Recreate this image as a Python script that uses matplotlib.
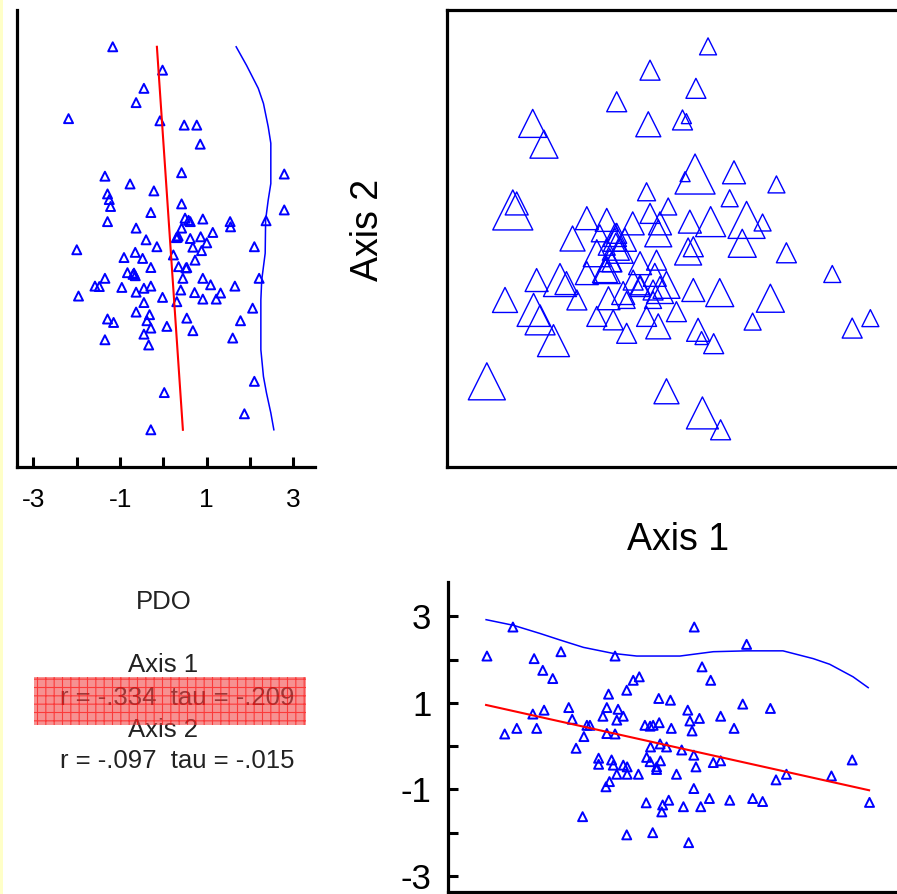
import numpy as np
import matplotlib
matplotlib.use("Agg")
import matplotlib.pyplot as plt
from matplotlib.patches import Rectangle

plt.rcParams['font.family'] = ['Liberation Sans', 'DejaVu Sans']
plt.rcParams['hatch.linewidth'] = 0.8

# ---- data ----
# top-left: PDO (x) against Axis 2 (y)
tl_pdo = [-1.17, -0.02, -0.45, -0.63, -2.19, -0.08, 0.48, 0.77, 0.85, 0.42,
          2.79, -1.35, -0.77, -0.22, -1.29, -1.25, -1.22, 0.42, -0.29, 2.79,
          -1.29, 0.50, 0.62, 0.91, 1.54, 1.55, 2.37, -0.63, 0.42, 1.14,
          0.32, -0.40, 0.62, 0.86, 1.00, -0.15, 0.68, -2.00, 2.10, -0.65,
          -0.91, -0.48, 0.23, 0.88, 0.73, -0.29, -0.83, -0.65, 0.35, 0.54,
          0.45, -1.35, 0.91, -1.58, -1.48, -0.96, -0.63, -0.45, -0.29, 1.09,
          1.65, 2.21, -1.96, -0.02, 0.31, 0.40, 0.72, 0.91, 1.22, 1.32,
          -0.45, 2.06, -0.63, -0.32, -0.38, -1.29, -1.15, 0.54, 1.78, 0.08,
          -0.29, 0.68, -0.45, -1.35, 1.60, -0.34, 2.10, 0.02, 1.87, -0.29,
          -0.70, -0.68, 0.30, 0.34, 0.58, 0.52]
tl_ax2 = [4.31, 3.77, 3.35, 3.02, 2.65, 2.60, 2.50, 2.50, 2.06, 1.40,
          1.37, 1.32, 1.14, 0.98, 0.91, 0.78, 0.62, 0.68, 0.48, 0.54,
          0.27, 0.35, 0.27, 0.33, 0.27, 0.15, 0.29, 0.12, 0.12, 0.02,
          -0.09, -0.15, -0.12, -0.08, -0.22, -0.31, -0.32, -0.38, -0.31, -0.44,
          -0.56, -0.58, -0.50, -0.40, -0.62, -0.79, -0.91, -0.98, -0.77, -0.79,
          -1.04, -1.04, -1.04, -1.22, -1.23, -1.25, -1.36, -1.27, -1.22, -1.19,
          -1.22, -1.04, -1.45, -1.48, -1.58, -1.31, -1.37, -1.52, -1.52, -1.38,
          -1.60, -1.73, -1.82, -1.88, -2.02, -1.98, -2.06, -1.96, -2.02, -2.15,
          -2.19, -2.25, -2.33, -2.46, -2.42, -2.58, -3.42, -3.68, -4.17, -4.54,
          -0.95, -0.92, -0.10, -0.06, 0.30, -0.80]
tl_fit_pdo = [-0.15, 0.45]
tl_fit_ax2 = [4.31, -4.54]
tl_env_pdo = [1.68, 1.92, 2.19, 2.31, 2.42, 2.48, 2.48, 2.42, 2.36, 2.35,
              2.27, 2.25, 2.25, 2.31, 2.38, 2.48, 2.55]
tl_env_ax2 = [4.31, 3.88, 3.35, 3.00, 2.46, 2.08, 1.15, 0.77, 0.31, -0.46,
              -1.08, -1.54, -2.69, -3.31, -3.69, -4.15, -4.54]

# top-right: Axis 1 vs Axis 2, triangle size follows PDO
tr_ax1 = [0.65, -0.69, 0.37, -1.46, -0.73, 0.06, 0.15, -3.40, -3.14, 0.35,
          0.12, 1.25, 2.23, -0.77, 1.15, -3.86, -3.77, -0.27, -2.15, -1.69,
          -1.09, -0.69, -0.46, 0.23, 0.71, 1.54, 1.91, -2.48, -1.50, -1.48,
          -0.50, 0.19, 0.31, 1.44, 2.46, -1.92, -1.62, -0.92, -0.54, -3.31,
          -2.77, -2.62, -2.15, -1.69, 3.52, -2.38, -4.04, -3.38, -3.23, -2.92,
          -1.92, -1.65, -1.54, -1.23, -1.31, -0.92, -0.77, -0.50, -0.31, -0.08,
          0.31, 0.92, 2.09, 1.68, 0.42, 0.50, 0.78, 3.98, 4.40, -4.46,
          -0.31, 0.52, 0.94, -1.08, -0.62, -1.46, -1.85, -1.23, -0.62, -1.69,
          -1.50, -1.39, -1.57, -1.27, -1.73, -0.92, -0.46, -0.58]
tr_ax2 = [4.32, 3.77, 3.35, 3.04, 2.52, 2.62, 2.65, 2.54, 2.06, 1.37,
          1.31, 1.41, 1.13, 0.96, 0.81, 0.54, 0.69, 0.62, 0.35, 0.31,
          0.23, 0.46, 0.23, 0.27, 0.27, 0.31, 0.25, -0.12, -0.15, -0.31,
          0.00, -0.42, -0.31, -0.23, -0.45, -0.46, -0.62, -0.69, -0.62, -1.08,
          -1.08, -1.15, -0.92, -0.85, -0.94, -1.54, -1.54, -1.77, -2.00, -2.48,
          -1.92, -1.50, -2.00, -2.31, -1.38, -1.23, -1.92, -2.15, -1.19, -1.81,
          -1.31, -1.37, -1.50, -2.04, -2.23, -2.42, -2.55, -2.19, -1.96, -3.42,
          -3.65, -4.15, -4.54, -1.08, -1.31, 0.00, 0.00, -1.54, -1.54, -0.31,
          -0.04, -0.38, -0.66, -0.15, -0.85, -1.19, -1.31, -0.96]
tr_pdo = [-1.17, -0.67, -0.67, -0.67, 0.17, -0.67, -2.33, 0.67, 0.67, 2.67,
          -2.33, -0.17, -1.17, -1.00, -1.17, 2.67, -0.17, -1.17, -0.17, -0.17,
          -0.17, -0.67, -0.17, -0.17, 1.00, 2.17, -1.17, 0.17, -0.17, 0.50,
          0.50, 0.50, -0.67, 0.67, -0.67, 0.50, -0.17, -0.17, -0.67, -0.17,
          1.50, -0.17, -0.17, 0.50, -1.17, -0.67, 0.17, 1.50, 1.00, 1.33,
          -0.67, -0.17, -0.67, -0.67, -0.17, -0.67, -0.67, 0.17, 0.50, -0.67,
          -0.17, 0.67, 0.67, -1.17, -0.17, -1.83, -0.67, -0.67, -1.17, 2.17,
          0.17, 1.33, -0.67, -0.67, -0.67, -0.67, -1.17, -1.17, -1.17, -1.17,
          -0.17, 0.50, -0.67, -0.17, 0.17, -0.67, 0.50, -0.17]

# bottom-right: Axis 1 (x) against PDO (y)
br_ax1 = [-4.46, -3.86, -3.37, -2.75, -3.17, -2.94, -1.50, 0.33, 1.54, 0.51,
          0.71, -0.94, -1.08, -1.23, -1.65, -0.49, -0.22, 1.45, 2.09, -2.57,
          -3.40, -3.14, -1.69, -1.43, 0.18, -2.49, -1.78, -1.46, -1.31, 0.23,
          0.45, 0.94, -4.05, -3.77, -3.31, -2.15, -2.08, -2.22, -1.69, -1.50,
          -0.81, -0.69, -0.62, -0.48, -0.20, 0.28, 1.25, -2.40, -0.68, -0.46,
          -0.31, 0.04, 0.32, -0.77, -0.69, -0.45, -0.54, -0.54, -1.88, -1.88,
          -1.58, -1.54, -1.31, -1.22, -1.46, -1.22, -0.96, -0.08, 0.37, 0.77,
          0.94, 2.22, 2.46, 3.50, 3.98, -1.63, -1.71, 0.32, -0.78, -0.40,
          -0.26, -0.42, 0.08, 0.48, 0.68, 1.15, 1.68, 1.91, 4.38, -2.25,
          -1.23, -0.63, 0.20]
br_pdo = [2.08, 2.75, 2.02, 2.18, 1.75, 1.56, 2.08, 2.75, 2.35, 1.83,
          1.52, 1.60, 1.52, 1.29, 1.20, 1.10, 1.06, 0.97, 0.87, 0.89,
          0.74, 0.83, 0.89, 0.85, 0.83, 0.62, 0.69, 0.60, 0.69, 0.58,
          0.64, 0.69, 0.28, 0.41, 0.41, 0.48, 0.48, 0.22, 0.29, 0.28,
          0.48, 0.46, 0.48, 0.54, 0.41, 0.35, 0.41, -0.05, -0.02, 0.05,
          -0.02, -0.09, -0.21, -0.26, -0.36, -0.34, -0.48, -0.54, -0.28, -0.42,
          -0.32, -0.44, -0.44, -0.48, -0.65, -0.65, -0.65, -0.65, -0.48, -0.38,
          -0.34, -0.78, -0.65, -0.69, -0.32, -0.82, -0.94, -0.98, -1.31, -1.36,
          -1.25, -1.52, -1.40, -1.40, -1.21, -1.25, -1.21, -1.28, -1.30, -1.63,
          -2.05, -2.00, -2.23]
br_fit_ax1 = [-4.48, 4.37]
br_fit_pdo = [0.95, -1.02]
br_env_ax1 = [-4.48, -3.85, -3.23, -2.77, -2.23, -1.54, -1.00, 0.00, 0.77, 1.54,
              2.38, 3.08, 3.46, 4.00, 4.35]
br_env_pdo = [2.92, 2.79, 2.60, 2.45, 2.28, 2.14, 2.08, 2.08, 2.18, 2.20,
              2.20, 2.02, 1.89, 1.60, 1.35]

tick_vals = [-3, -2, -1, 0, 1, 2, 3]
tick_labels = ['-3', '', '-1', '', '1', '', '3']

stats_title = "PDO"
stats_lines = ["Axis 1", "r = -.334  tau = -.209", "Axis 2", "r = -.097  tau = -.015"]

blue = '#0000ff'
red = '#ff0000'
small_tri = (9 * 0.72) ** 2

fig = plt.figure(figsize=(8.97, 8.94), dpi=100)
fig.patches.append(Rectangle((0, 0), 2.5 / 897, 1, transform=fig.transFigure,
                             facecolor='#ffffc8', edgecolor='none'))

xlim = (-5.36, 5.2)
ylim = (-5.40, 5.16)

# top left - PDO vs axis 2
ax_tl = fig.add_axes([17 / 897, 1 - 467 / 894, 298 / 897, 457 / 894])
ax_tl.scatter(tl_pdo, tl_ax2, marker='^', s=small_tri, facecolors='none',
              edgecolors=blue, linewidths=1.4)
ax_tl.plot(tl_fit_pdo, tl_fit_ax2, color=red, lw=1.5)
ax_tl.plot(tl_env_pdo, tl_env_ax2, color=blue, lw=1.1)
ax_tl.set_xlim(-3.38, 3.5)
ax_tl.set_ylim(ylim)
ax_tl.set_xticks(tick_vals)
ax_tl.set_xticklabels(tick_labels, fontsize=19)
ax_tl.tick_params(axis='x', direction='in', length=7, width=2.2, pad=15)
ax_tl.tick_params(axis='y', left=False, labelleft=False)
for s in ['top', 'right']:
    ax_tl.spines[s].set_visible(False)
for s in ['left', 'bottom']:
    ax_tl.spines[s].set_linewidth(2.3)

# top right - ordination
ax_tr = fig.add_axes([447 / 897, 1 - 467 / 894, 458 / 897, 457 / 894])
tri_px = 24 + 6 * np.array(tr_pdo)
ax_tr.scatter(tr_ax1, tr_ax2, marker='^', s=(tri_px * 0.72) ** 2, facecolors='none',
              edgecolors=blue, linewidths=1.0)
ax_tr.set_xlim(-5.38, 5.2)
ax_tr.set_ylim(ylim)
ax_tr.set_xticks([])
ax_tr.set_yticks([])
for s in ax_tr.spines.values():
    s.set_linewidth(2.3)

fig.text(368 / 897, 1 - 230 / 894, "Axis 2", rotation=90, ha='center', va='center', fontsize=27)
fig.text(678 / 897, 1 - 540 / 894, "Axis 1", ha='center', va='center', fontsize=27)

# bottom right - axis 1 vs PDO
ax_br = fig.add_axes([448 / 897, 1 - 892 / 894, 457 / 897, 310 / 894])
ax_br.scatter(br_ax1, br_pdo, marker='^', s=small_tri, facecolors='none',
              edgecolors=blue, linewidths=1.4)
ax_br.plot(br_fit_ax1, br_fit_pdo, color=red, lw=1.5)
ax_br.plot(br_env_ax1, br_env_pdo, color=blue, lw=1.1)
ax_br.set_xlim(xlim)
ax_br.set_ylim(-3.37, 3.79)
ax_br.set_yticks(tick_vals)
ax_br.set_yticklabels(tick_labels, fontsize=25)
ax_br.tick_params(axis='y', direction='in', length=7, width=2.2, pad=12)
ax_br.tick_params(axis='x', bottom=False, labelbottom=False)
for s in ['top', 'right']:
    ax_br.spines[s].set_visible(False)
for s in ['left', 'bottom']:
    ax_br.spines[s].set_linewidth(2.3)

# bottom left - correlation text
fig.text(164 / 897, 1 - 602 / 894, stats_title, ha='center', va='center', fontsize=18.5, color='#222222')
text_x = [163, 177, 163, 177]
text_y = [665, 698, 730, 761]
for line, xx, yy in zip(stats_lines, text_x, text_y):
    fig.text(xx / 897, 1 - yy / 894, line, ha='center', va='center', fontsize=18.5, color='#222222')
fig.patches.append(Rectangle((34 / 897, 1 - 725 / 894), 272 / 897, 48 / 894,
                             transform=fig.transFigure, facecolor='#f04848', alpha=0.6,
                             hatch='++', edgecolor='#ff0000', linewidth=0, zorder=5))

fig.savefig("out.png", dpi=100)
